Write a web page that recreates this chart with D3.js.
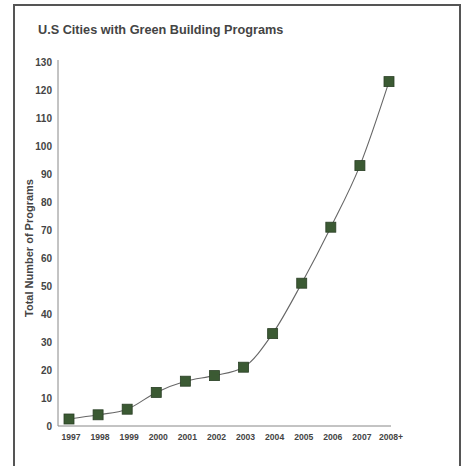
<!DOCTYPE html>
<html><head><meta charset="utf-8">
<script src="https://cdn.jsdelivr.net/npm/d3@7"></script>
<style>body{margin:0;background:#fff;}svg{display:block;}</style>
</head><body>
<svg id="c" width="463" height="466"></svg>
<script>
const years = ["1997","1998","1999","2000","2001","2002","2003","2004","2005","2006","2007","2008+"];
const programs = [2.5, 4, 6, 12, 16, 18, 21, 33, 51, 71, 93, 123];
const yTicks = [0,10,20,30,40,50,60,70,80,90,100,110,120,130];
const title = "U.S Cities with Green Building Programs";
const yTitle = "Total Number of Programs";

const svg = d3.select("#c");
const font = "Liberation Sans, Arial, sans-serif";
svg.append("rect").attr("x",14).attr("y",5).attr("width",446).attr("height",470)
  .attr("fill","#fff").attr("stroke","#555").attr("stroke-width",2);

svg.append("text").attr("x",38).attr("y",34).text(title)
  .attr("font-family",font).attr("font-weight","bold").attr("font-size",12.7).attr("fill","#444");

const x = d3.scalePoint().domain(years).range([69,389]);
const y = d3.scaleLinear().domain([0,130]).range([426,62]);

svg.append("line").attr("x1",58).attr("x2",58).attr("y1",y(130)-2).attr("y2",y(0)).attr("stroke","#888").attr("stroke-width",1);
svg.append("line").attr("x1",58).attr("x2",391).attr("y1",y(0)).attr("y2",y(0)).attr("stroke","#888").attr("stroke-width",1);

svg.append("g").selectAll("text").data(yTicks).join("text")
  .attr("x",52).attr("y",d=>y(d)+3.5).attr("text-anchor","end").text(d=>d)
  .attr("font-family",font).attr("font-weight","bold").attr("font-size",10).attr("fill","#444");

svg.append("g").selectAll("text").data(years).join("text")
  .attr("x",d=>x(d)+2).attr("y",440).attr("text-anchor","middle").text(d=>d)
  .attr("font-family",font).attr("font-weight","bold").attr("font-size",8.6).attr("fill","#444");

svg.append("text").attr("transform","translate(33,248) rotate(-90)").attr("text-anchor","middle")
  .text(yTitle).attr("font-family",font).attr("font-weight","bold").attr("font-size",11).attr("fill","#444");

const data = years.map((d,i)=>({k:d,v:programs[i]}));
const line = d3.line().x(d=>x(d.k)).y(d=>y(d.v)).curve(d3.curveMonotoneX);
svg.append("path").attr("d",line(data)).attr("fill","none").attr("stroke","#666").attr("stroke-width",1.1);

svg.append("g").selectAll("rect").data(data).join("rect")
  .attr("x",d=>x(d.k)-5).attr("y",d=>y(d.v)-5).attr("width",10).attr("height",10)
  .attr("fill","#3b5a33").attr("stroke","#2a3f25").attr("stroke-width",0.8);
</script>
</body></html>
